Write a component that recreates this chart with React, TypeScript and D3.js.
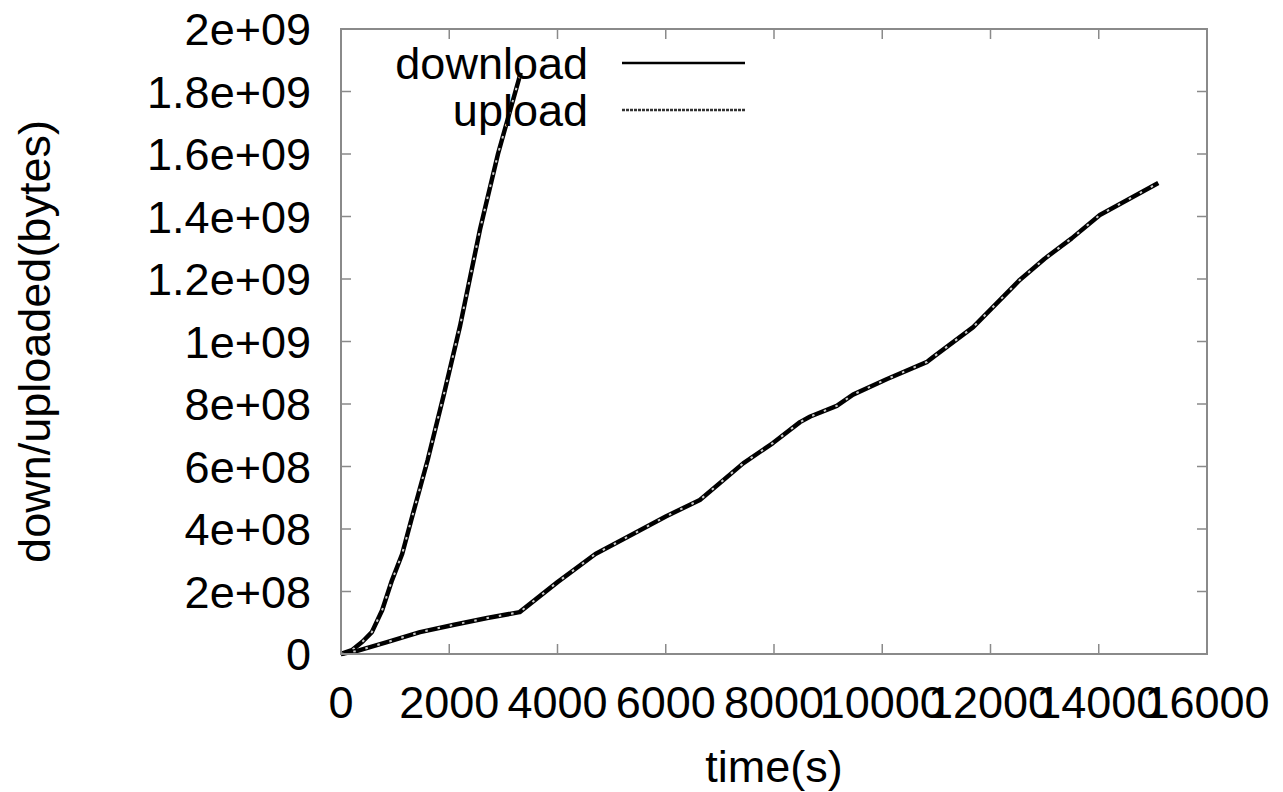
import React from "react";
import * as d3 from "d3";

const downloadT = [0, 200, 400, 570, 760, 940, 1130, 1300, 1600, 1900, 2200, 2570, 2900, 3320];
const downloadV = [0, 1.2e7, 4e7, 7e7, 1.4e8, 2.35e8, 3.2e8, 4.3e8, 6.2e8, 8.3e8, 1.05e9, 1.36e9, 1.6e9, 1.86e9];

const uploadT = [0, 300, 850, 1460, 2070, 2700, 3300, 4000, 4700, 5300, 6000, 6630, 7430, 7980, 8480, 8670, 9160, 9460, 10090, 10830, 10940, 11680, 12540, 13000, 13500, 14020, 15100];
const uploadV = [0, 1e7, 3.8e7, 7e7, 9.3e7, 1.15e8, 1.34e8, 2.3e8, 3.2e8, 3.75e8, 4.4e8, 4.93e8, 6.1e8, 6.75e8, 7.42e8, 7.6e8, 7.94e8, 8.3e8, 8.8e8, 9.35e8, 9.5e8, 1.046e9, 1.197e9, 1.265e9, 1.33e9, 1.405e9, 1.507e9];

const xTicks = [0, 2000, 4000, 6000, 8000, 10000, 12000, 14000, 16000];
const yTicks = [0, 2e8, 4e8, 6e8, 8e8, 1e9, 1.2e9, 1.4e9, 1.6e9, 1.8e9, 2e9];
const yTickLabels = ["0", "2e+08", "4e+08", "6e+08", "8e+08", "1e+09", "1.2e+09", "1.4e+09", "1.6e+09", "1.8e+09", "2e+09"];
const seriesNames = ["download", "upload"];

const W = 1283, H = 792;
const L = 341, R = 1207, T = 29, B = 654;
const FONT = "'Liberation Sans', Arial, sans-serif";
const FS = 45;
const GREY = "#8a8a8a";

export default function App() {
  const x = d3.scaleLinear().domain([0, 16000]).range([L, R]);
  const y = d3.scaleLinear().domain([0, 2e9]).range([B, T]);
  const line = d3.line<[number, number]>().x(d => x(d[0])).y(d => y(d[1]));
  const dl = line(downloadT.map((t, i) => [t, downloadV[i]] as [number, number])) || "";
  const ul = line(uploadT.map((t, i) => [t, uploadV[i]] as [number, number])) || "";
  const tickLen = 10;
  return (
    <svg width={W} height={H} style={{ position: "absolute", left: 0, top: 0, background: "#fff" }} fontFamily={FONT}>
      <rect x={0} y={0} width={W} height={H} fill="#fff" />
      {xTicks.map((t, i) => (
        <g key={"xt" + i}>
          <line x1={x(t)} x2={x(t)} y1={B} y2={B - tickLen} stroke={GREY} strokeWidth={1.5} />
          <line x1={x(t)} x2={x(t)} y1={T} y2={T + tickLen} stroke={GREY} strokeWidth={1.5} />
          <text x={x(t)} y={718} textAnchor="middle" fontSize={FS} fill="#000">{String(t)}</text>
        </g>
      ))}
      {yTicks.map((v, i) => (
        <g key={"yt" + i}>
          <line x1={L} x2={L + tickLen} y1={y(v)} y2={y(v)} stroke={GREY} strokeWidth={1.5} />
          <line x1={R} x2={R - tickLen} y1={y(v)} y2={y(v)} stroke={GREY} strokeWidth={1.5} />
          <text x={311} y={y(v) + 16} textAnchor="end" fontSize={FS} fill="#000">{yTickLabels[i]}</text>
        </g>
      ))}
      {[dl, ul].map((p, i) => (
        <g key={"c" + i}>
          <path d={p} fill="none" stroke="#000" strokeWidth={4.5} strokeLinejoin="round" />
          <path d={p} fill="none" stroke="#fff" strokeOpacity={0.8} strokeWidth={2} strokeDasharray="2.5 10" />
        </g>
      ))}
      <rect x={L} y={T} width={R - L} height={B - T} fill="none" stroke={GREY} strokeWidth={2} />
      <text x={588} y={79} textAnchor="end" fontSize={FS} fill="#000">{seriesNames[0]}</text>
      <line x1={622} x2={745} y1={63} y2={63} stroke="#000" strokeWidth={2.5} />
      <text x={588} y={126} textAnchor="end" fontSize={FS} fill="#000">{seriesNames[1]}</text>
      <line x1={622} x2={745} y1={110} y2={110} stroke="#333" strokeWidth={2.5} strokeDasharray="3 1" />
      <text x={(L + R) / 2} y={782} textAnchor="middle" fontSize={FS} fill="#000">time(s)</text>
      <text transform={`translate(50,${(T + B) / 2}) rotate(-90)`} textAnchor="middle" fontSize={FS} fill="#000">down/uploaded(bytes)</text>
    </svg>
  );
}
